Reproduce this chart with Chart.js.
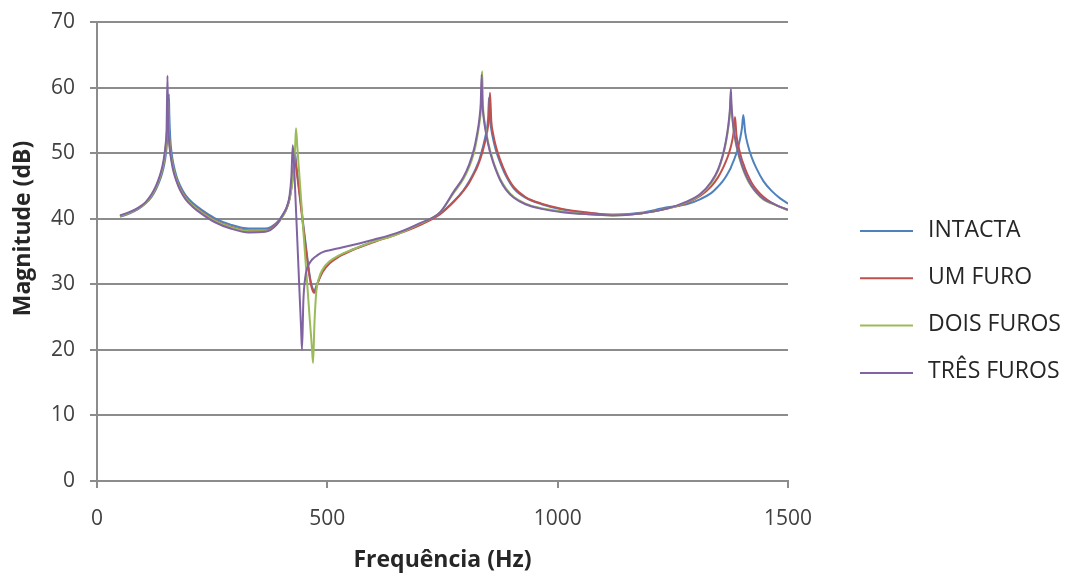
<!DOCTYPE html>
<html>
<head>
<meta charset="utf-8">
<script src="https://cdn.jsdelivr.net/npm/chart.js@4"></script>
<style>
  html, body { margin: 0; padding: 0; background: #ffffff; }
  #wrap { width: 1087px; height: 578px; }
</style>
</head>
<body>
<div id="wrap"><canvas id="frf" width="1087" height="578"></canvas></div>
<script>
// Frequency grid (Hz), shared by all four measurements
const freqHz = [
  50, 70, 90, 105, 118, 128, 136, 142, 146, 149, 151, 153, 154, 155, 156, 157, 159, 162, 166, 172, 180, 192, 208, 228, 255, 290, 330, 365, 390, 405,
  412, 418, 422, 425, 428, 430, 432, 435, 439, 443, 445, 448, 452, 457, 462, 466, 469, 472, 476, 482, 490, 505, 525, 555, 600, 650, 700, 745,
  775, 795, 808, 818, 825, 830, 833, 835, 836, 838, 841, 845, 849, 851, 853, 856, 860, 866, 875, 888, 905, 930, 965, 1010, 1060, 1120, 1180, 1235,
  1280, 1310, 1333, 1348, 1358, 1365, 1370, 1374, 1376, 1377, 1380, 1383, 1385, 1388, 1392, 1396, 1400, 1403, 1407, 1413, 1421, 1432, 1447, 1465, 1483, 1500
];

// Magnitude (dB) per plate condition
const magIntacta = [
  40.3, 40.8, 41.5, 42.3, 43.3, 44.5, 45.8, 47.1, 48.3, 49.6, 50.8, 52.8, 54.2, 56.0, 59.0, 55.8, 52.3, 50.0, 48.3, 46.6, 45.1, 43.6, 42.4, 41.3, 40.1, 39.1, 38.5, 38.5, 39.4, 40.8,
  41.7, 43.2, 45.0, 46.8, 48.8, 50.0, 48.6, 46.8, 44.4, 42.0, 40.8, 39.0, 36.7, 33.8, 31.2, 29.8, 29.2, 29.0, 29.7, 30.8, 32.0, 33.3, 34.3, 35.3, 36.5, 37.7, 39.1, 40.8,
  42.7, 44.3, 45.7, 47.0, 48.1, 49.0, 49.7, 50.2, 50.5, 51.0, 51.9, 53.2, 55.3, 58.5, 55.3, 53.6, 52.1, 50.4, 48.6, 46.5, 44.6, 43.2, 42.2, 41.4, 40.9, 40.6, 40.9, 41.7,
  42.2, 43.0, 43.9, 44.9, 45.7, 46.4, 47.0, 47.5, 47.8, 48.0, 48.5, 49.0, 49.4, 50.0, 51.0, 52.2, 53.8, 55.8, 53.2, 51.2, 49.4, 47.6, 45.7, 44.2, 43.1, 42.3
];
const magUmFuro = [
  40.4, 40.9, 41.6, 42.4, 43.5, 44.8, 46.2, 47.6, 49.0, 50.6, 52.2, 54.8, 57.0, 54.8, 53.0, 51.9, 50.4, 49.0, 47.6, 46.1, 44.7, 43.3, 42.1, 41.0, 39.8, 38.8, 38.2, 38.2, 39.2, 40.6,
  41.6, 43.0, 44.7, 46.4, 48.3, 49.4, 48.0, 46.3, 44.0, 41.6, 40.4, 38.6, 36.3, 33.4, 30.9, 29.5, 28.9, 28.7, 29.5, 30.7, 31.9, 33.2, 34.2, 35.2, 36.4, 37.6, 39.0, 40.7,
  42.6, 44.2, 45.5, 46.8, 47.8, 48.7, 49.3, 49.8, 50.0, 50.5, 51.3, 52.5, 54.2, 55.6, 59.2, 54.8, 52.9, 51.0, 49.0, 46.8, 44.8, 43.3, 42.3, 41.5, 41.0, 40.6, 40.8, 41.5,
  42.4, 43.5, 44.9, 46.3, 47.6, 48.7, 49.6, 50.5, 51.0, 51.3, 52.3, 53.8, 55.5, 52.8, 51.2, 50.0, 49.0, 48.4, 47.6, 46.6, 45.5, 44.4, 43.3, 42.4, 41.8, 41.3
];
const magDoisFuros = [
  40.4, 40.9, 41.6, 42.4, 43.5, 44.8, 46.2, 47.6, 49.0, 50.7, 52.4, 55.2, 58.0, 55.2, 53.2, 52.0, 50.4, 49.0, 47.6, 46.1, 44.6, 43.2, 42.0, 40.9, 39.7, 38.7, 38.1, 38.1, 39.1, 40.6,
  41.7, 43.0, 44.5, 46.0, 48.5, 50.8, 53.8, 50.8, 46.9, 43.0, 41.0, 38.1, 34.2, 29.4, 24.5, 20.9, 18.0, 24.0, 28.8, 31.0, 32.3, 33.5, 34.4, 35.3, 36.5, 37.6, 39.2, 41.0,
  44.0, 46.0, 47.9, 50.0, 52.3, 54.5, 56.3, 58.6, 62.5, 57.2, 55.0, 53.2, 51.7, 51.1, 50.5, 49.8, 48.8, 47.6, 46.1, 44.6, 43.3, 42.3, 41.6, 41.1, 40.7, 40.5, 40.8, 41.5,
  42.5, 43.7, 45.4, 47.3, 49.4, 51.5, 53.7, 56.3, 59.0, 57.3, 54.7, 53.0, 52.2, 51.1, 49.9, 48.9, 48.0, 47.4, 46.7, 45.8, 44.9, 43.9, 42.9, 42.3, 41.8, 41.3
];
const magTresFuros = [
  40.5, 41.0, 41.7, 42.5, 43.7, 45.0, 46.5, 48.0, 49.6, 51.4, 53.4, 61.8, 56.0, 53.8, 52.4, 51.4, 50.0, 48.6, 47.2, 45.8, 44.4, 43.0, 41.8, 40.7, 39.5, 38.5, 37.9, 38.0, 39.1, 40.8,
  41.8, 43.5, 46.5, 51.2, 47.9, 44.6, 41.3, 36.4, 29.8, 23.3, 20.0, 27.5, 31.0, 32.6, 33.3, 33.7, 33.9, 34.1, 34.3, 34.6, 34.9, 35.2, 35.5, 36.0, 36.8, 37.8, 39.3, 41.0,
  44.2, 46.3, 48.3, 50.5, 52.9, 55.2, 57.6, 62.0, 58.4, 56.3, 54.5, 52.8, 51.4, 50.8, 50.2, 49.5, 48.6, 47.4, 45.9, 44.4, 43.2, 42.2, 41.5, 41.0, 40.7, 40.5, 40.8, 41.5,
  42.6, 43.8, 45.6, 47.5, 49.6, 51.8, 54.0, 56.8, 59.8, 57.8, 55.0, 53.2, 52.4, 51.3, 50.1, 49.1, 48.2, 47.6, 46.9, 46.0, 45.0, 44.0, 43.0, 42.4, 41.8, 41.4
];

const seriesNames = ['INTACTA', 'UM FURO', 'DOIS FUROS', 'TRÊS FUROS'];
const seriesColors = ['#4F81BD', '#C0504D', '#9BBB59', '#8064A2'];
const seriesValues = [magIntacta, magUmFuro, magDoisFuros, magTresFuros];

// Axis ticks and titles
const xTicks = [0, 500, 1000, 1500];
const yTicks = [0, 10, 20, 30, 40, 50, 60, 70];
const xTitle = 'Frequência (Hz)';
const yTitle = 'Magnitude (dB)';

const FONT = "'Open Sans', 'DejaVu Sans', sans-serif";

// Legend to the right of the plot (coloured line + label) and the rotated y title
const sideDecor = {
  id: 'sideDecor',
  afterDraw(chart) {
    const ctx = chart.ctx;
    const area = chart.chartArea;
    const x0 = area.right + 72;
    ctx.save();
    ctx.font = '23px ' + FONT;
    ctx.textBaseline = 'middle';
    ctx.textAlign = 'left';
    seriesNames.forEach((name, i) => {
      const y = 231 + i * 47.3;
      ctx.strokeStyle = seriesColors[i];
      ctx.lineWidth = 2;
      ctx.beginPath();
      ctx.moveTo(x0, y);
      ctx.lineTo(x0 + 53, y);
      ctx.stroke();
      ctx.fillStyle = '#262626';
      ctx.fillText(name, x0 + 68, y - 1);
    });
    ctx.restore();

    ctx.save();
    ctx.translate(23, area.top + (area.bottom - area.top) * 0.45);
    ctx.rotate(-Math.PI / 2);
    ctx.font = 'bold 23px ' + FONT;
    ctx.fillStyle = '#262626';
    ctx.textAlign = 'center';
    ctx.textBaseline = 'middle';
    ctx.fillText(yTitle, 0, 0);
    ctx.restore();
  }
};

const datasets = seriesNames.map((name, i) => ({
  label: name,
  data: freqHz.map((f, k) => ({ x: f, y: seriesValues[i][k] })),
  borderColor: seriesColors[i],
  borderWidth: 2,
  pointRadius: 0,
  fill: false,
  cubicInterpolationMode: 'monotone',
  order: seriesNames.length - 1 - i
}));

new Chart(document.getElementById('frf'), {
  type: 'line',
  data: { datasets },
  plugins: [sideDecor],
  options: {
    responsive: false,
    animation: false,
    layout: { padding: { top: 22, right: 299, bottom: 0, left: 0 } },
    plugins: {
      legend: { display: false },
      tooltip: { enabled: false }
    },
    scales: {
      x: {
        type: 'linear',
        min: 0,
        max: 1500,
        afterFit: s => { s.height = 97; s.paddingLeft = 0; s.paddingRight = 0; },
        afterBuildTicks: s => { s.ticks = xTicks.map(v => ({ value: v })); },
        ticks: {
          color: '#404040',
          font: { family: FONT, size: 21 },
          padding: 18,
          maxRotation: 0,
          callback: v => String(v)
        },
        grid: {
          drawOnChartArea: false,
          drawTicks: true,
          tickLength: 7,
          color: '#8c8c8c',
          lineWidth: 2
        },
        border: { display: true, color: '#8c8c8c', width: 2 },
        title: {
          display: true,
          text: xTitle,
          color: '#262626',
          font: { family: FONT, size: 23, weight: 'bold' },
          padding: { top: 0, bottom: 4 }
        }
      },
      y: {
        type: 'linear',
        min: 0,
        max: 70,
        afterFit: s => { s.width = 97; s.paddingTop = 0; s.paddingBottom = 0; },
        afterBuildTicks: s => { s.ticks = yTicks.map(v => ({ value: v })); },
        ticks: {
          color: '#404040',
          font: { family: FONT, size: 21 },
          padding: 15,
          callback: v => String(v)
        },
        grid: {
          drawOnChartArea: true,
          drawTicks: true,
          tickLength: 7,
          color: '#8c8c8c',
          lineWidth: 2
        },
        border: { display: true, color: '#8c8c8c', width: 2 },
        title: { display: false }
      }
    }
  }
});
</script>
</body>
</html>
